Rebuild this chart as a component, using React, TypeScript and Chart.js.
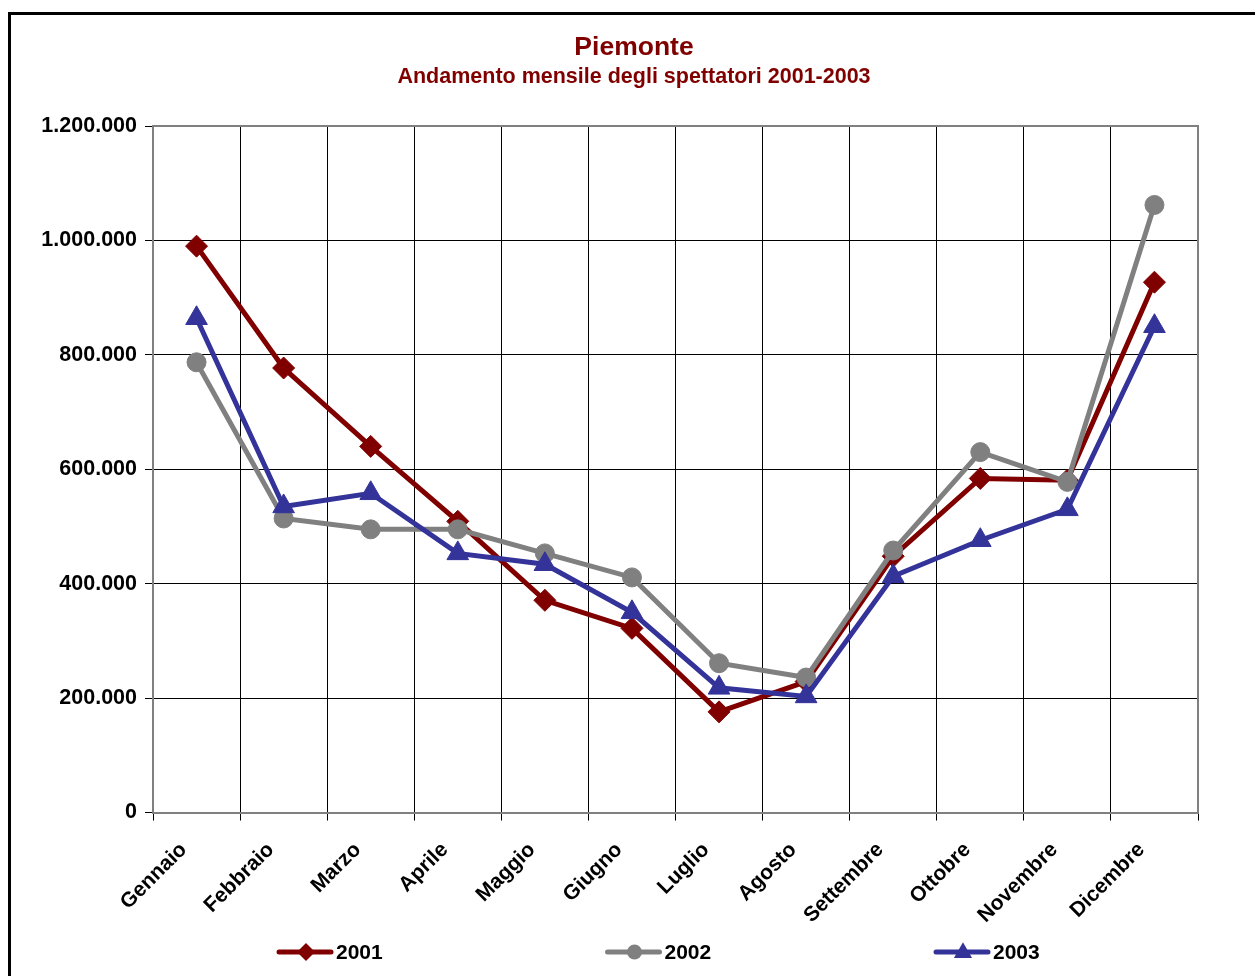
import React, { useEffect, useRef } from 'react';
import { Chart, registerables } from 'chart.js';

Chart.register(...registerables);

const MONTHS = ['Gennaio', 'Febbraio', 'Marzo', 'Aprile', 'Maggio', 'Giugno', 'Luglio', 'Agosto', 'Settembre', 'Ottobre', 'Novembre', 'Dicembre'];
const SERIES_LABELS = ['2001', '2002', '2003'];
const SERIES_2001 = [990000, 777000, 640000, 509000, 371000, 322000, 176000, 229000, 448000, 584000, 581000, 927000];
const SERIES_2002 = [787000, 514000, 495000, 495000, 453000, 411000, 261000, 236000, 458000, 630000, 578000, 1062000];
const SERIES_2003 = [864000, 535000, 558000, 453000, 434000, 350000, 218000, 203000, 413000, 476000, 530000, 850000];
const Y_TICKS = [0, 200000, 400000, 600000, 800000, 1000000, 1200000];
const TITLE = 'Piemonte';
const SUBTITLE = 'Andamento mensile degli spettatori 2001-2003';

const COLORS = ['#800000', '#808080', '#333399'];
const TITLE_COLOR = '#800000';
const POINT_STYLES = ['rectRot', 'circle', 'triangle'];
const POINT_RADII = [11, 9.5, 12.5];
const FONT = '"Liberation Sans", Arial, sans-serif';

const fmt = (v: number) => String(v).replace(/\B(?=(\d{3})+(?!\d))/g, '.');

function drawMarker(ctx: CanvasRenderingContext2D, style: string, x: number, y: number, r: number) {
  ctx.beginPath();
  if (style === 'rectRot') {
    ctx.moveTo(x, y - r);
    ctx.lineTo(x + r, y);
    ctx.lineTo(x, y + r);
    ctx.lineTo(x - r, y);
  } else if (style === 'circle') {
    ctx.arc(x, y, r, 0, Math.PI * 2);
  } else {
    const h = r * 1.5;
    const w = r * Math.sqrt(3);
    ctx.moveTo(x, y - h / 2 - 2);
    ctx.lineTo(x + w / 2, y + h / 2 - 2);
    ctx.lineTo(x - w / 2, y + h / 2 - 2);
  }
  ctx.closePath();
  ctx.fill();
}

const framePlugin = {
  id: 'plotFrame',
  beforeDatasetsDraw(chart: any) {
    const { ctx, chartArea } = chart;
    ctx.save();
    ctx.strokeStyle = '#808080';
    ctx.lineWidth = 2;
    ctx.beginPath();
    ctx.moveTo(chartArea.left, chartArea.top);
    ctx.lineTo(chartArea.right, chartArea.top);
    ctx.lineTo(chartArea.right, chartArea.bottom);
    ctx.stroke();
    ctx.restore();
  },
};

const TITLE_CENTER_SHIFT = -6.5;
const TITLE_Y = 33;
const SUBTITLE_Y = 62.5;

const titlePlugin = {
  id: 'titles',
  afterDraw(chart: any) {
    const { ctx } = chart;
    const cx = chart.width / 2 + TITLE_CENTER_SHIFT;
    ctx.save();
    ctx.fillStyle = TITLE_COLOR;
    ctx.textAlign = 'center';
    ctx.textBaseline = 'middle';
    ctx.font = `bold 26.5px ${FONT}`;
    ctx.fillText(TITLE, cx, TITLE_Y);
    ctx.font = `bold 21.5px ${FONT}`;
    ctx.fillText(SUBTITLE, cx, SUBTITLE_Y);
    ctx.restore();
  },
};

const LEGEND_START = 124;
const LEGEND_STEP = 328.5;
const LEGEND_FROM_BOTTOM = 37;

const legendPlugin = {
  id: 'lineLegend',
  afterDraw(chart: any) {
    const { ctx, chartArea } = chart;
    const y = chart.height - LEGEND_FROM_BOTTOM;
    chart.data.datasets.forEach((ds: any, i: number) => {
      const x0 = chartArea.left + LEGEND_START + i * LEGEND_STEP;
      ctx.save();
      ctx.strokeStyle = ds.borderColor;
      ctx.fillStyle = ds.borderColor;
      ctx.lineWidth = 5;
      ctx.lineCap = 'round';
      ctx.beginPath();
      ctx.moveTo(x0 + 2, y);
      ctx.lineTo(x0 + 54, y);
      ctx.stroke();
      drawMarker(ctx, ds.pointStyle, x0 + 29, y, ds.pointRadius - 2);
      ctx.fillStyle = '#000';
      ctx.font = `bold 21px ${FONT}`;
      ctx.textBaseline = 'middle';
      ctx.textAlign = 'left';
      ctx.fillText(ds.label, x0 + 59, y + 1);
      ctx.restore();
    });
  },
};

export default function App() {
  const ref = useRef<HTMLCanvasElement | null>(null);

  useEffect(() => {
    if (!ref.current) return;
    const seriesValues = [SERIES_2001, SERIES_2002, SERIES_2003];
    const chart = new Chart(ref.current, {
      type: 'line',
      data: {
        labels: MONTHS,
        datasets: seriesValues.map((vals, i) => ({
          label: SERIES_LABELS[i],
          data: vals,
          borderColor: COLORS[i],
          backgroundColor: COLORS[i],
          pointBackgroundColor: COLORS[i],
          pointBorderColor: COLORS[i],
          pointBorderWidth: 1,
          pointStyle: POINT_STYLES[i],
          pointRadius: POINT_RADII[i],
          borderWidth: 5,
          tension: 0,
          fill: false,
          order: 3 - i,
        })),
      },
      options: {
        responsive: false,
        animation: false,
        layout: { padding: { left: 31, right: 72, top: 111, bottom: 44 } },
        plugins: {
          legend: { display: false },
          tooltip: { enabled: false },
          title: { display: false },
          subtitle: { display: false },
        },
        scales: {
          x: {
            type: 'category',
            offset: true,
            grid: { offset: true, color: '#000', lineWidth: 1, tickLength: 8, tickColor: '#000', drawTicks: true },
            border: { color: '#808080', width: 2 },
            ticks: {
              minRotation: 45,
              maxRotation: 45,
              autoSkip: false,
              color: '#000',
              padding: 17,
              labelOffset: -13,
              font: { family: FONT, size: 21, weight: 'bold' },
            },
          },
          y: {
            min: 0,
            max: 1200000,
            afterBuildTicks: (axis: any) => {
              axis.ticks = Y_TICKS.map((v) => ({ value: v }));
            },
            afterFit: (axis: any) => {
              axis.width = 111;
            },
            grid: { color: '#000', lineWidth: 1, tickLength: 8, tickColor: '#000' },
            border: { color: '#808080', width: 2 },
            ticks: {
              color: '#000',
              padding: 8,
              font: { family: FONT, size: 21.5, weight: 'bold' },
              callback: (v: any) => fmt(Number(v)),
            },
          },
        },
      },
      plugins: [framePlugin, titlePlugin, legendPlugin],
    } as any);
    return () => chart.destroy();
  }, []);

  return (
    <div style={{ position: 'fixed', left: 0, top: 0, width: 1255, height: 976, overflow: 'hidden', background: '#fff' }}>
      <div
        style={{
          position: 'absolute',
          left: 8,
          top: 12,
          width: 1265,
          height: 980,
          border: '3px solid #000',
          boxSizing: 'border-box',
          background: '#fff',
        }}
      >
        <canvas ref={ref} width={1259} height={974} style={{ display: 'block' }} />
      </div>
    </div>
  );
}
